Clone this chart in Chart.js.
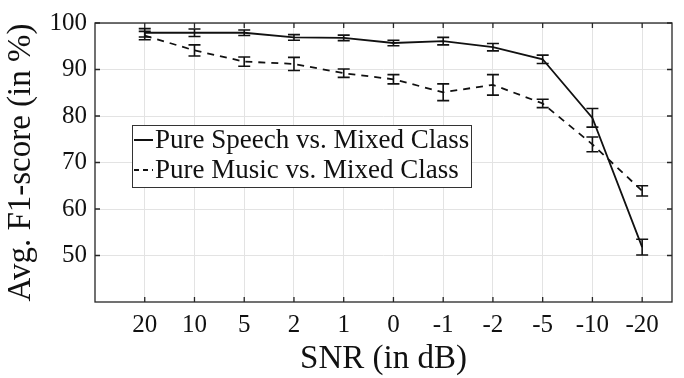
<!DOCTYPE html>
<html>
<head>
<meta charset="utf-8">
<script src="https://cdn.jsdelivr.net/npm/chart.js@4/dist/chart.umd.min.js"></script>
<style>
  html, body { margin: 0; padding: 0; background: #fff; }
  #wrap { position: relative; width: 684px; height: 378px; }
  #legend {
    position: absolute; left: 132px; top: 125px; width: 338px; height: 61px;
    background: #fff; border: 1px solid #333;
    font-family: "Liberation Serif", "DejaVu Serif", serif; font-size: 27px; color: #111;
  }
  .row { position: absolute; left: 0; height: 30px; line-height: 30px; white-space: nowrap; padding-left: 22px; }
  .sample { position: absolute; left: 1px; top: 15px; width: 19px; height: 2px; }
  .solid { background: #111; }
  .dashed { background: repeating-linear-gradient(to right, #111 0 5px, transparent 5px 9px); }
</style>
</head>
<body>
<div id="wrap">
  <canvas id="chart" width="684" height="378"></canvas>
  <div id="legend">
    <div class="row" style="top:-2px"><span class="sample solid"></span>Pure Speech vs. Mixed Class</div>
    <div class="row" style="top:28px"><span class="sample dashed"></span>Pure Music vs. Mixed Class</div>
  </div>
</div>
<script>
// SNR categories (in dB)
const snrLabels = ['20', '10', '5', '2', '1', '0', '-1', '-2', '-5', '-10', '-20'];

// Avg. F1-score (%) and error half-widths
const speechF1 = [97.9, 97.9, 97.9, 96.9, 96.8, 95.7, 96.1, 94.8, 92.2, 79.6, 51.8];
const speechErr = [0.9, 0.8, 0.6, 0.6, 0.6, 0.6, 0.8, 0.8, 0.9, 2.0, 1.7];
const musicF1 = [97.3, 94.1, 91.7, 91.2, 89.2, 87.9, 85.1, 86.7, 82.7, 73.9, 63.9];
const musicErr = [0.9, 1.2, 1.0, 1.4, 0.9, 1.0, 1.8, 2.2, 0.9, 1.6, 1.1];

const yTicks = [50, 60, 70, 80, 90, 100];

const serif = '"Liberation Serif", "DejaVu Serif", serif';

function toPoints(vals) {
  return vals.map((v, i) => ({ x: i, y: v }));
}

// Draw error bars through the chart scales.
const errorBars = {
  id: 'errorBars',
  afterDatasetsDraw(chart) {
    const ctx = chart.ctx;
    const xs = chart.scales.x, ys = chart.scales.y;
    const errs = [speechErr, musicErr];
    const vals = [speechF1, musicF1];
    ctx.save();
    ctx.strokeStyle = '#111';
    ctx.lineWidth = 1.6;
    ctx.setLineDash([]);
    vals.forEach((arr, d) => {
      arr.forEach((v, i) => {
        const px = xs.getPixelForValue(i);
        const top = ys.getPixelForValue(v + errs[d][i]);
        const bot = ys.getPixelForValue(v - errs[d][i]);
        ctx.beginPath();
        ctx.moveTo(px, top); ctx.lineTo(px, bot);
        ctx.moveTo(px - 6, top); ctx.lineTo(px + 6, top);
        ctx.moveTo(px - 6, bot); ctx.lineTo(px + 6, bot);
        ctx.stroke();
      });
    });
    ctx.restore();
  }
};

// Box around plot area with inward ticks, like the original figure.
const frame = {
  id: 'frame',
  afterDraw(chart) {
    const ctx = chart.ctx;
    const a = chart.chartArea;
    const xs = chart.scales.x, ys = chart.scales.y;
    ctx.save();
    ctx.strokeStyle = '#262626';
    ctx.lineWidth = 1.3;
    ctx.strokeRect(a.left, a.top, a.right - a.left, a.bottom - a.top);
    ctx.beginPath();
    snrLabels.forEach((_, i) => {
      const px = xs.getPixelForValue(i);
      ctx.moveTo(px, a.bottom); ctx.lineTo(px, a.bottom - 5);
      ctx.moveTo(px, a.top); ctx.lineTo(px, a.top + 5);
    });
    yTicks.forEach(t => {
      const py = ys.getPixelForValue(t);
      ctx.moveTo(a.left, py); ctx.lineTo(a.left + 5, py);
      ctx.moveTo(a.right, py); ctx.lineTo(a.right - 5, py);
    });
    ctx.stroke();
    ctx.restore();
  }
};

new Chart(document.getElementById('chart').getContext('2d'), {
  type: 'line',
  data: {
    datasets: [
      {
        label: 'Pure Speech vs. Mixed Class',
        data: toPoints(speechF1),
        borderColor: '#111',
        borderWidth: 1.8,
        pointRadius: 0,
        fill: false,
        tension: 0
      },
      {
        label: 'Pure Music vs. Mixed Class',
        data: toPoints(musicF1),
        borderColor: '#111',
        borderWidth: 1.8,
        borderDash: [7, 6],
        pointRadius: 0,
        fill: false,
        tension: 0
      }
    ]
  },
  options: {
    responsive: false,
    animation: false,
    layout: { padding: { top: 20, right: 12, left: 0, bottom: 0 } },
    plugins: {
      legend: { display: false },
      tooltip: { enabled: false }
    },
    scales: {
      x: {
        type: 'linear',
        min: -1,
        max: 10.6,
        afterBuildTicks: s => { s.ticks = snrLabels.map((_, i) => ({ value: i })); },
        afterFit: s => { s.height = 76; },
        ticks: {
          callback: v => snrLabels[v],
          color: '#111',
          font: { family: serif, size: 25 },
          padding: 8,
          maxRotation: 0,
          autoSkip: false
        },
        grid: { color: '#e3e3e3', lineWidth: 1, drawTicks: false },
        border: { display: false },
        title: {
          display: true,
          text: 'SNR (in dB)',
          color: '#111',
          font: { family: serif, size: 33, lineHeight: 1 },
          padding: { top: 0, bottom: 2 }
        }
      },
      y: {
        min: 40,
        max: 100,
        afterBuildTicks: s => { s.ticks = yTicks.map(v => ({ value: v })); },
        afterFit: s => { s.width = 95; },
        ticks: {
          color: '#111',
          font: { family: serif, size: 25 },
          padding: 8
        },
        grid: { color: '#e3e3e3', lineWidth: 1, drawTicks: false },
        border: { display: false },
        title: {
          display: true,
          text: 'Avg. F1-score (in %)',
          color: '#111',
          font: { family: serif, size: 33, lineHeight: 1 },
          padding: { top: 5, bottom: 0 }
        }
      }
    }
  },
  plugins: [errorBars, frame]
});
</script>
</body>
</html>
